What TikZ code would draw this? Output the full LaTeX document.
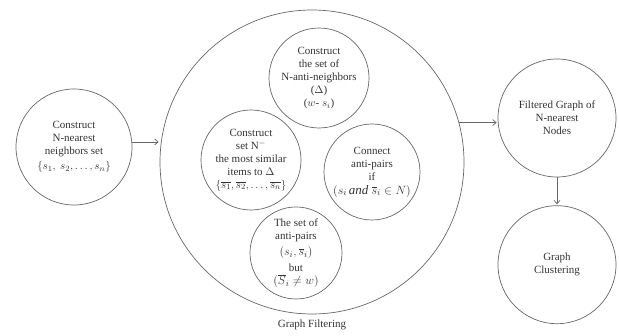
\documentclass[tikz,border=0pt]{standalone}
\usepackage{fontspec}
\setmainfont{Liberation Serif}
\usetikzlibrary{arrows.meta, positioning}

\begin{document}
\begin{tikzpicture}[x=1pt, y=-1pt, font=\fontsize{11}{13}\selectfont, text=black!80,
    circ/.style={draw=black!60, line width=0.7pt, circle, inner sep=0pt, align=center},
    arr/.style={-{Straight Barb[length=3.5pt, width=6pt]}, draw=black!60, line width=0.7pt, shorten >=1pt}]
    \useasboundingbox (0,0) rectangle (619,336);

    % Input
    \node[circ, minimum size=116pt] (nset) at (74,147) {Construct\\N-nearest\\neighbors set\\[2pt]$\{s_1,\ s_2,\dots,s_n\}$};

    % Graph filtering
    \node[circ, minimum size=304pt] (filt) at (312,162) {\phantom{x}};
    \node[below=2pt of filt] (filtlbl) {Graph Filtering};
    \node[circ, minimum size=100pt] (anti) at (319,78) {Construct\\the set of\\N-anti-neighbors\\($\Delta$)\\($w$- $s_i$)};
    \node[circ, minimum size=100pt] (simil) at (251,160) {Construct\\set N$^{-}$\\the most similar\\items to $\Delta$\\$\{\overline{s_1},\overline{s_2},\dots,\overline{s_n}\}$};
    \node[circ, minimum size=96pt] (conn) at (372,172) {Connect\\anti-pairs\\if\\[1pt]{\fontsize{13}{15}\selectfont$(s_i\,\textit{and}\ \overline{s}_i\in N)$}};
    \node[circ, minimum size=92pt] (pairs) at (296,253) {The set of\\anti-pairs\\[3pt]{\fontsize{13}{15}\selectfont$(s_i,\overline{s}_i)$}\\[3pt]but\\{\fontsize{13}{15}\selectfont$(\overline{S}_i\neq w)$}};

    % Output
    \node[circ, minimum size=118pt] (fgraph) at (557,118) {Filtered Graph of\\N-nearest\\Nodes};
    \node[circ, minimum size=118pt, below=28pt of fgraph] (clust) {Graph\\Clustering};

    \draw[arr] (nset.5) -- (nset.5 -| filt.west);
    \draw[arr] (filt.15) -- (filt.15 -| fgraph.west);
    \draw[arr] (fgraph.south) -- (clust.north);
\end{tikzpicture}
\end{document}
